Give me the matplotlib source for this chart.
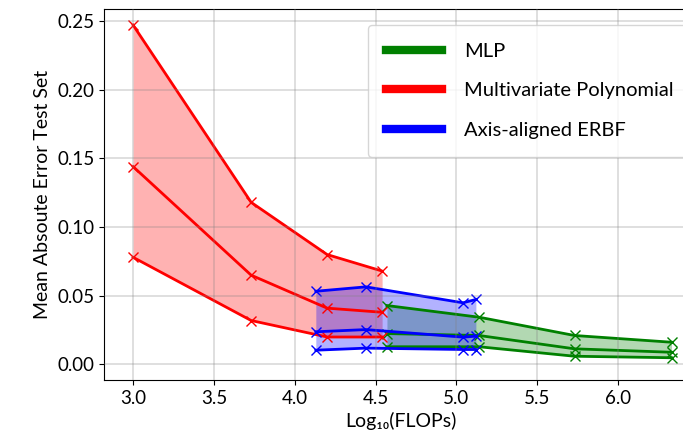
import matplotlib.pyplot as plt

plt.rcParams['font.family'] = ['Lato', 'DejaVu Sans']

# log10(FLOPs) and error bands (upper / mid / lower)
mlp_x = [4.57, 5.14, 5.73, 6.33]
mlp_hi = [0.0429, 0.0344, 0.0211, 0.0162]
mlp_mid = [0.0225, 0.0211, 0.0114, 0.0089]
mlp_lo = [0.0129, 0.0129, 0.0060, 0.0049]

poly_x = [3.0, 3.73, 4.20, 4.54]
poly_hi = [0.247, 0.118, 0.080, 0.068]
poly_mid = [0.144, 0.065, 0.041, 0.038]
poly_lo = [0.078, 0.032, 0.020, 0.020]

erbf_x = [4.13, 4.44, 5.04, 5.12]
erbf_hi = [0.0533, 0.0565, 0.0449, 0.0473]
erbf_mid = [0.0238, 0.0254, 0.0199, 0.0206]
erbf_lo = [0.0104, 0.0119, 0.0109, 0.0109]

series = [
    ('MLP', 'green', mlp_x, mlp_hi, mlp_mid, mlp_lo),
    ('Multivariate Polynomial', 'red', poly_x, poly_hi, poly_mid, poly_lo),
    ('Axis-aligned ERBF', 'blue', erbf_x, erbf_hi, erbf_mid, erbf_lo),
]

fig = plt.figure(figsize=(6.83, 4.34), dpi=100)
ax = fig.add_axes([0.1523, 0.1244, 0.8697, 0.8548])

for name, c, xs, hi, mid, lo in series:
    ax.fill_between(xs, lo, hi, color=c, alpha=0.3, lw=0)
    for ys in (hi, mid, lo):
        ax.plot(xs, ys, color=c, marker='x', ms=7, lw=2)
    ax.plot([], [], color=c, lw=6, label=name)

ax.set_xlim(2.82, 6.494)
ax.set_ylim(-0.0113, 0.2587)
ax.set_xticks([3.0, 3.5, 4.0, 4.5, 5.0, 5.5, 6.0])
ax.set_yticks([0.0, 0.05, 0.10, 0.15, 0.20, 0.25])
ax.set_axisbelow(False)
ax.grid(True, color='gray', alpha=0.3, lw=1.2)
ax.tick_params(labelsize=13.5)
ax.set_xlabel('Log₁₀(FLOPs)', fontsize=14)
ax.set_ylabel('Mean Absoute Error Test Set', fontsize=14)

ax.legend(loc='upper right', bbox_to_anchor=(0.99, 0.957), fontsize=14.5,
          labelspacing=1.1, handlelength=2.8, handletextpad=1.1,
          borderpad=0.9, borderaxespad=0)

plt.savefig('out.png', dpi=100)
